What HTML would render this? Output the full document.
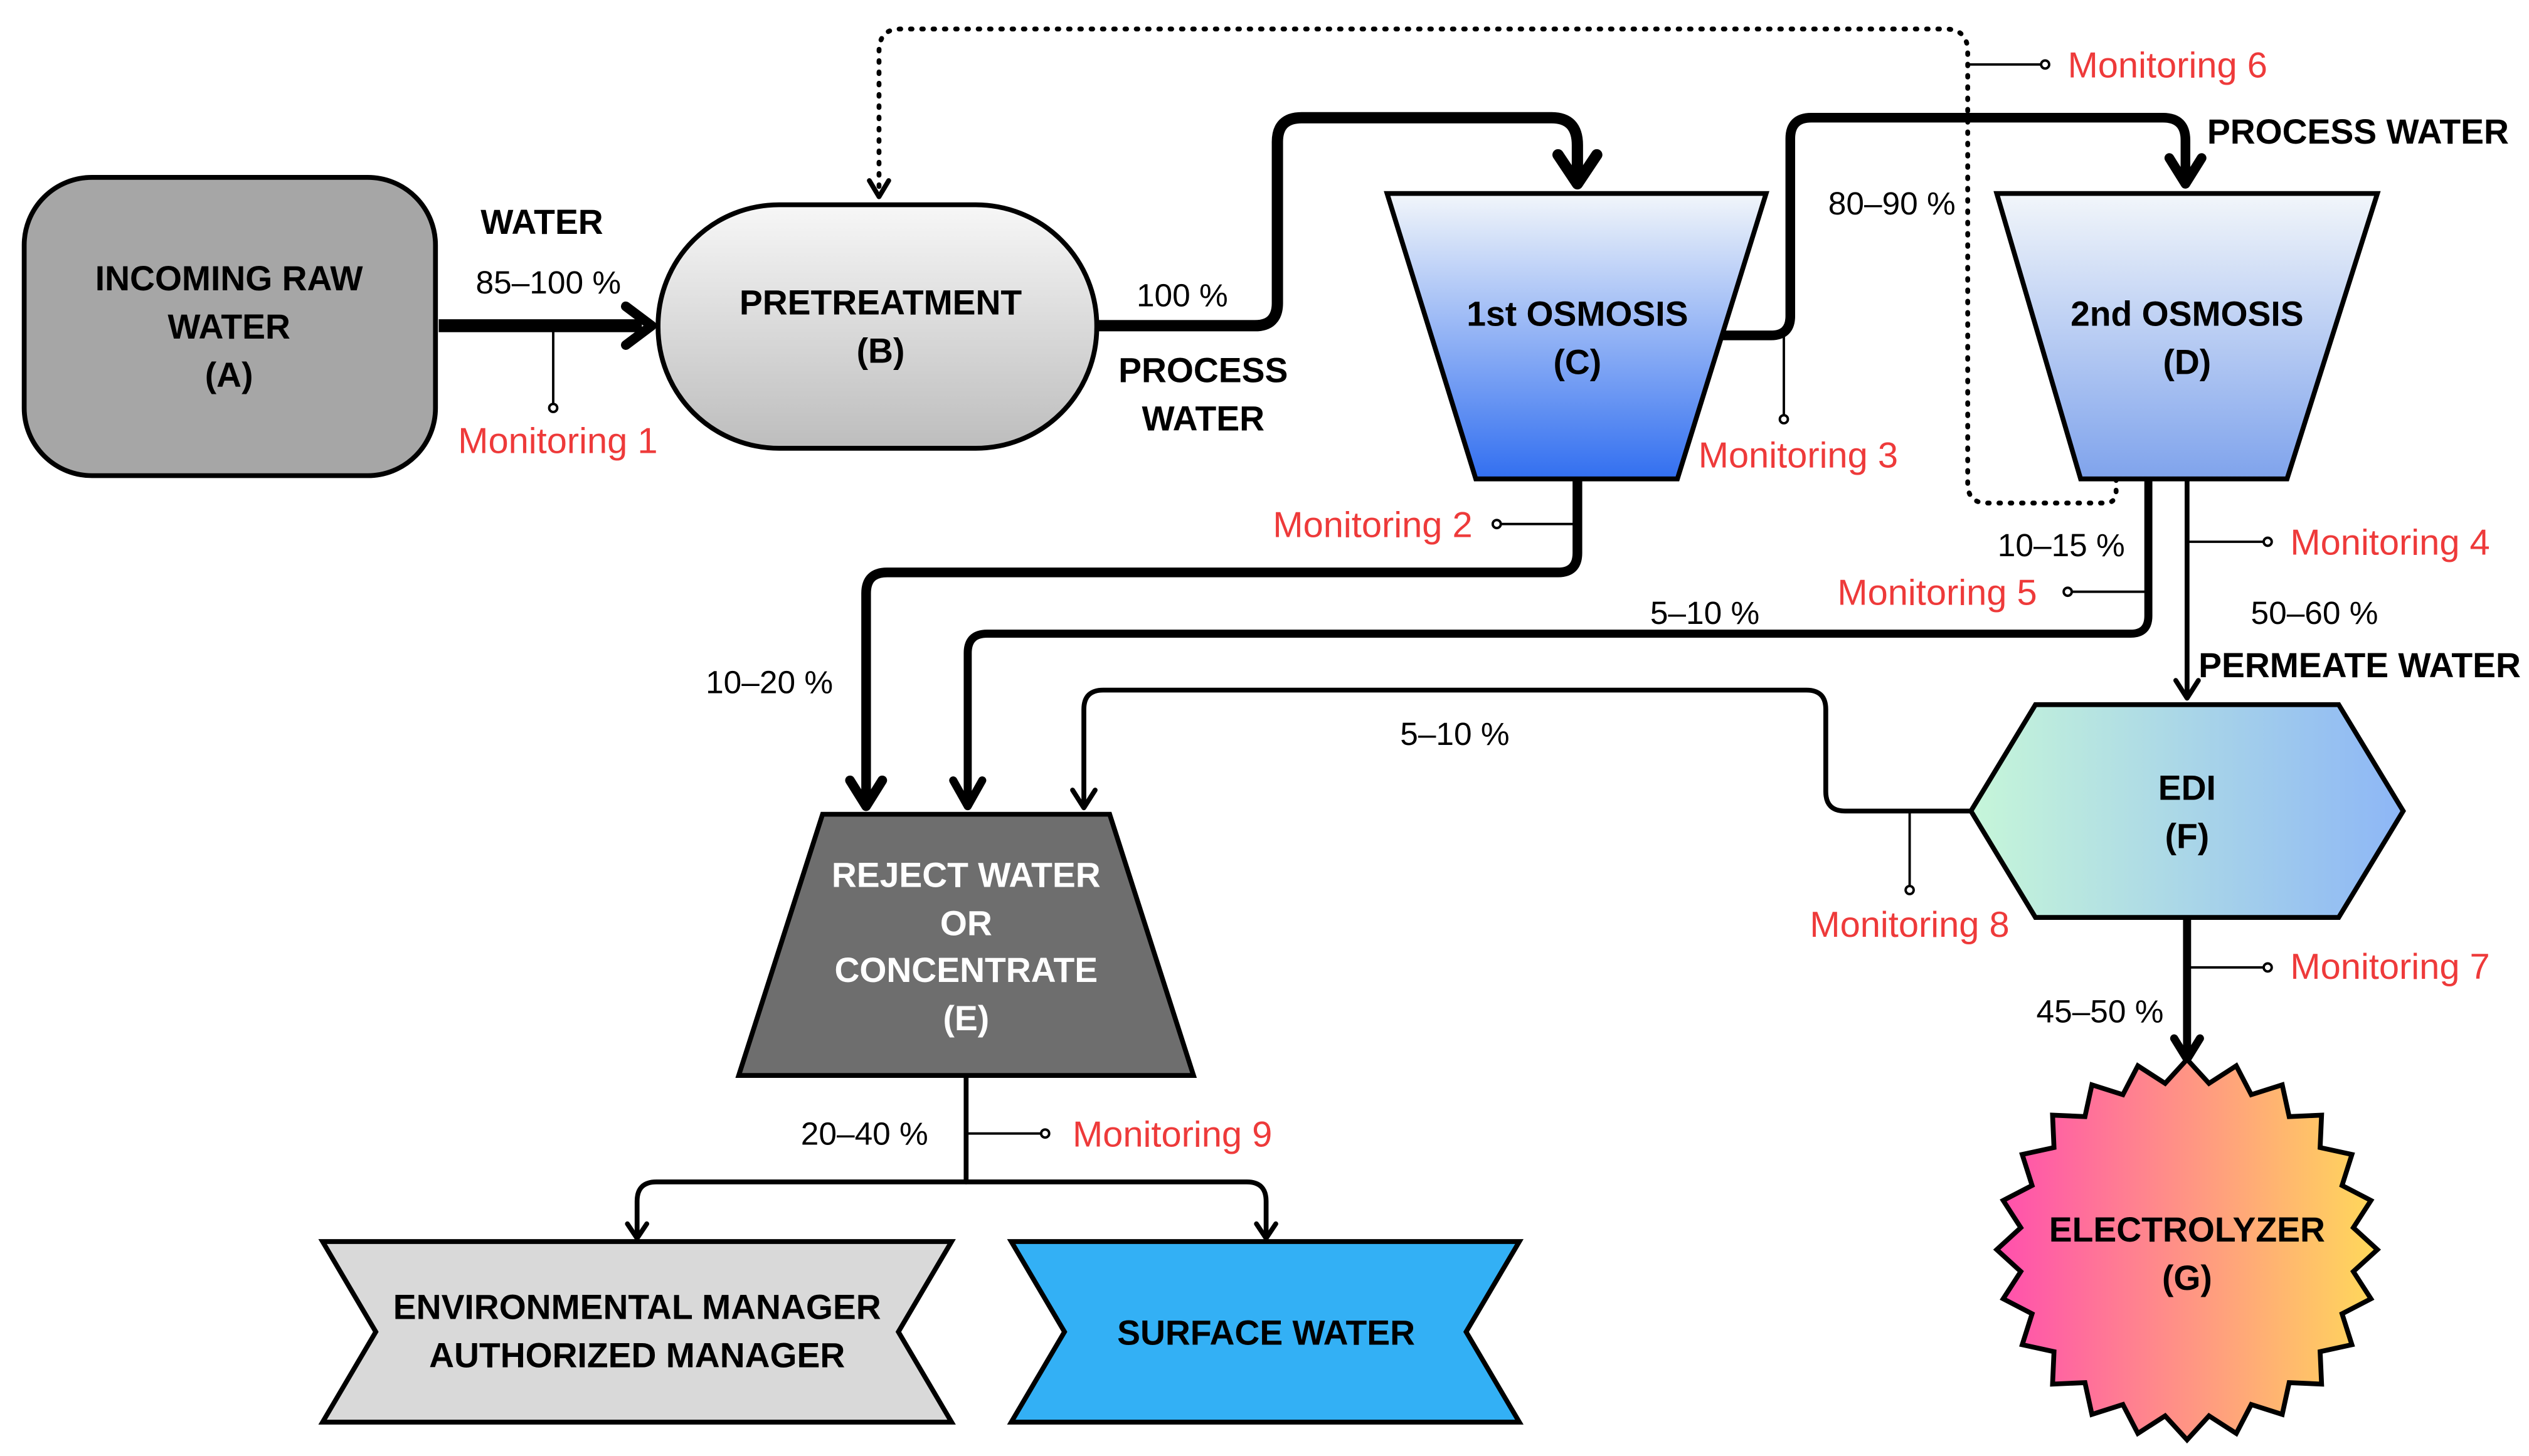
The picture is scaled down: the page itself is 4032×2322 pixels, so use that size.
<!DOCTYPE html>
<html><head><meta charset="utf-8"><style>
html,body{margin:0;padding:0;background:#fff;}
svg{display:block;}
text{font-family:"Liberation Sans",sans-serif;font-size:20px;}
.b{font-weight:bold;font-size:21.5px;}
.r{fill:#ee3a3a;font-size:22.5px;}
.m{text-anchor:middle;}
.e{text-anchor:end;}
</style></head><body>
<svg width="4032" height="2322" viewBox="0 0 1568 903" xmlns="http://www.w3.org/2000/svg">
<defs>
<linearGradient id="gB" x1="0" y1="0" x2="0" y2="1"><stop offset="0" stop-color="#f7f7f7"/><stop offset="1" stop-color="#bdbdbd"/></linearGradient>
<linearGradient id="gC" x1="0" y1="0" x2="0" y2="1"><stop offset="0" stop-color="#f2f6fa"/><stop offset="1" stop-color="#326ff0"/></linearGradient>
<linearGradient id="gD" x1="0" y1="0" x2="0" y2="1"><stop offset="0" stop-color="#f2f6fa"/><stop offset="1" stop-color="#7fa3ec"/></linearGradient>
<linearGradient id="gF" x1="0" y1="0" x2="1" y2="0"><stop offset="0" stop-color="#c6f6d9"/><stop offset="1" stop-color="#8db6f6"/></linearGradient>
<linearGradient id="gG" x1="0" y1="0" x2="1" y2="0"><stop offset="0" stop-color="#ff4fae"/><stop offset="1" stop-color="#ffd95a"/></linearGradient>
</defs>
<g fill="none" stroke="#000" stroke-linejoin="round" stroke-linecap="round">
<path d="M1312,297 V305 Q1312,312 1305,312 H1232 Q1220,312 1220,300 V32 Q1220,18 1206,18 H558 Q545,18 545,32 V118" stroke-width="3" stroke-dasharray="1,6"/>
<path d="M539,112 L545,122 L551,112" stroke-width="3"/>
<path d="M272,202 H398" stroke-width="8" stroke-linecap="butt"/>
<path d="M388,190 L404,202 L388,214" stroke-width="6"/>
<path d="M680,202 H778 Q792,202 792,188 V88 Q792,73 807,73 H962 Q978,73 978,90 V110" stroke-width="7"/>
<path d="M966,96 L978,114 L990,96" stroke-width="7"/>
<path d="M1068,208 H1098 Q1110,208 1110,196 V86 Q1110,73 1123,73 H1341 Q1355,73 1355,87 V110" stroke-width="6"/>
<path d="M1345,98 L1355,114 L1365,98" stroke-width="6"/>
<path d="M978,297 V343 Q978,355 966,355 H550 Q537,355 537,368 V496" stroke-width="6"/>
<path d="M527,484 L537,500 L547,484" stroke-width="6"/>
<path d="M1332,297 V382 Q1332,393 1321,393 H612 Q600,393 600,405 V496" stroke-width="5"/>
<path d="M591,484 L600,500 L609,484" stroke-width="5"/>
<path d="M1356,297 V430" stroke-width="3"/>
<path d="M1349,422 L1356,433 L1363,422" stroke-width="3"/>
<path d="M1222,503 H1144 Q1132,503 1132,491 V440 Q1132,428 1120,428 H684 Q672,428 672,440 V499" stroke-width="3"/>
<path d="M665,490 L672,501 L679,490" stroke-width="3"/>
<path d="M1356,570 V654" stroke-width="5"/>
<path d="M1348,644 L1356,657 L1364,644" stroke-width="5"/>
<path d="M599,667 V733" stroke-width="3"/>
<path d="M395,765 V745 Q395,733 407,733 H773 Q785,733 785,745 V765" stroke-width="3"/>
<path d="M389,759 L395,768 L401,759 M779,759 L785,768 L791,759" stroke-width="3"/>
<g stroke-width="1.5">
<path d="M343,202 V251"/><circle cx="343" cy="253" r="2.5" fill="#fff"/>
<path d="M975,325 H931"/><circle cx="928" cy="325" r="2.5" fill="#fff"/>
<path d="M1106,208 V257"/><circle cx="1106" cy="260" r="2.5" fill="#fff"/>
<path d="M1356,336 H1403"/><circle cx="1406" cy="336" r="2.5" fill="#fff"/>
<path d="M1332,367 H1285"/><circle cx="1282" cy="367" r="2.5" fill="#fff"/>
<path d="M1220,40 H1265"/><circle cx="1268" cy="40" r="2.5" fill="#fff"/>
<path d="M1356,600 H1403"/><circle cx="1406" cy="600" r="2.5" fill="#fff"/>
<path d="M1184,503 V549"/><circle cx="1184" cy="552" r="2.5" fill="#fff"/>
<path d="M599,703 H645"/><circle cx="648" cy="703" r="2.5" fill="#fff"/>
</g>
</g>
<g stroke="#000" stroke-width="3" stroke-linejoin="miter">
<rect x="15" y="110" width="255" height="185" rx="42" fill="#a6a6a6"/>
<rect x="408" y="127" width="272" height="151" rx="75" fill="url(#gB)"/>
<polygon points="860,120 1095,120 1040,297 915,297" fill="url(#gC)"/>
<polygon points="1238,120 1474,120 1418,297 1290,297" fill="url(#gD)"/>
<polygon points="1222,503 1262,437 1450,437 1490,503 1450,569 1262,569" fill="url(#gF)"/>
<polygon points="510,505 688,505 740,667 458,667" fill="#6e6e6e"/>
<polygon points="200,770 590,770 557,826 590,882 200,882 233,826" fill="#d9d9d9"/>
<polygon points="627,770 942,770 909,826 942,882 627,882 660,826" fill="#33b0f5"/>
<polygon transform="translate(1356,775)" fill="url(#gG)" points="0,-118 13.6,-103.1 30.5,-114 39.8,-96.1 59,-102.2 63.3,-82.5 83.4,-83.4 82.5,-63.3 102.2,-59 96.1,-39.8 114,-30.5 103.1,-13.6 118,0 103.1,13.6 114,30.5 96.1,39.8 102.2,59 82.5,63.3 83.4,83.4 63.3,82.5 59,102.2 39.8,96.1 30.5,114 13.6,103.1 0,118 -13.6,103.1 -30.5,114 -39.8,96.1 -59,102.2 -63.3,82.5 -83.4,83.4 -82.5,63.3 -102.2,59 -96.1,39.8 -114,30.5 -103.1,13.6 -118,0 -103.1,-13.6 -114,-30.5 -96.1,-39.8 -102.2,-59 -82.5,-63.3 -83.4,-83.4 -63.3,-82.5 -59,-102.2 -39.8,-96.1 -30.5,-114 -13.6,-103.1"/>
</g>
<g class="b m">
<text class="b m" x="142" y="180">INCOMING RAW</text><text class="b m" x="142" y="210">WATER</text><text class="b m" x="142" y="240">(A)</text>
<text class="b m" x="546" y="195">PRETREATMENT</text><text class="b m" x="546" y="225">(B)</text>
<text class="b m" x="978" y="202">1st OSMOSIS</text><text class="b m" x="978" y="232">(C)</text>
<text class="b m" x="1356" y="202">2nd OSMOSIS</text><text class="b m" x="1356" y="232">(D)</text>
<text class="b m" x="1356" y="496">EDI</text><text class="b m" x="1356" y="526">(F)</text>
<text class="b m" x="1356" y="770">ELECTROLYZER</text><text class="b m" x="1356" y="800">(G)</text>
<g fill="#fff"><text class="b m" x="599" y="550">REJECT WATER</text><text class="b m" x="599" y="580">OR</text><text class="b m" x="599" y="609">CONCENTRATE</text><text class="b m" x="599" y="639">(E)</text></g>
<text class="b m" x="395" y="818">ENVIRONMENTAL MANAGER</text><text class="b m" x="395" y="848">AUTHORIZED MANAGER</text>
<text class="b m" x="785" y="834">SURFACE WATER</text>
<text class="b m" x="336" y="145">WATER</text>
<text class="b m" x="746" y="237">PROCESS</text><text class="b m" x="746" y="267">WATER</text>
<text class="b m" x="1462" y="89">PROCESS WATER</text>
<text class="b m" x="1463" y="420">PERMEATE WATER</text>
</g>
<g class="m">
<text class="m" x="340" y="182">85–100 %</text>
<text class="m" x="733" y="190">100 %</text>
<text class="m" x="1173" y="133">80–90 %</text>
<text class="m" x="1278" y="345">10–15 %</text>
<text class="m" x="1057" y="387">5–10 %</text>
<text class="m" x="1435" y="387">50–60 %</text>
<text class="m" x="477" y="430">10–20 %</text>
<text class="m" x="902" y="462">5–10 %</text>
<text class="m" x="1302" y="634">45–50 %</text>
<text class="m" x="536" y="710">20–40 %</text>
</g>
<g>
<text class="r" x="284" y="281">Monitoring 1</text>
<text class="r e" x="913" y="333">Monitoring 2</text>
<text class="r" x="1053" y="290">Monitoring 3</text>
<text class="r" x="1420" y="344">Monitoring 4</text>
<text class="r e" x="1263" y="375">Monitoring 5</text>
<text class="r" x="1282" y="48">Monitoring 6</text>
<text class="r" x="1420" y="607">Monitoring 7</text>
<text class="r m" x="1184" y="581">Monitoring 8</text>
<text class="r" x="665" y="711">Monitoring 9</text>
</g>
</svg>
</body></html>
